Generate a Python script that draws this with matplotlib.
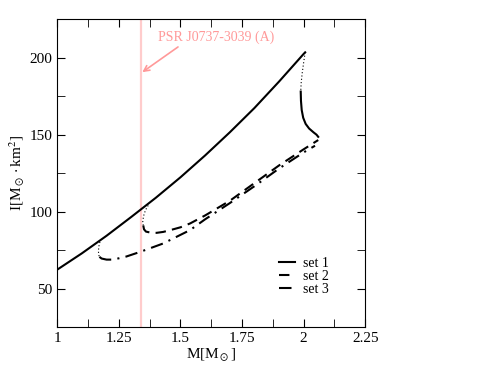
import numpy as np
import matplotlib.pyplot as plt
from matplotlib.ticker import MultipleLocator

plt.rcParams['font.family'] = ['Liberation Serif', 'DejaVu Serif']
plt.rcParams['mathtext.fontset'] = 'stix'

# set 1: stable branch, unstable (dotted) connection, hybrid branch
m1 = [1.0, 1.1, 1.2, 1.3, 1.4, 1.5, 1.6, 1.7, 1.8, 1.9, 2.0, 2.006]
i1 = [62.3, 72.9, 84.3, 96.5, 109.0, 122.3, 136.5, 151.5, 167.3, 184.5, 202.5, 203.5]
m1_dot = [2.006, 2.0, 1.994, 1.990, 1.988]
i1_dot = [203.5, 197.0, 190.0, 184.0, 178.0]
m1_hyb = [1.988, 1.989, 1.992, 1.998, 2.008, 2.022, 2.040, 2.052, 2.059]
i1_hyb = [178.0, 172.0, 166.0, 161.0, 157.0, 154.0, 151.5, 150.0, 148.6]

# set 2
m2_dot = [1.369, 1.358, 1.350, 1.347, 1.349]
i2_dot = [104.0, 101.0, 97.0, 93.5, 91.0]
m2 = [1.349, 1.352, 1.36, 1.38, 1.403, 1.43, 1.457, 1.5, 1.539, 1.6, 1.7, 1.8, 1.9, 2.0, 2.059]
i2 = [91.0, 88.5, 87.0, 86.3, 86.2, 86.8, 87.9, 89.8, 92.3, 97.5, 107.0, 118.5, 130.0, 140.5, 146.5]

# set 3
m3_dot = [1.173, 1.169, 1.167, 1.168, 1.171]
i3_dot = [80.3, 77.5, 74.5, 72.0, 70.6]
m3 = [1.171, 1.18, 1.2, 1.227, 1.28, 1.336, 1.43, 1.539, 1.6, 1.7, 1.8, 1.9, 2.0, 2.046]
i3 = [70.6, 69.5, 68.8, 68.8, 70.8, 73.8, 79.3, 88.0, 95.0, 105.5, 116.5, 128.0, 138.5, 142.8]

m_psr = 1.338

fig = plt.figure(figsize=(4.98, 3.85), dpi=100)
ax = fig.add_axes([0.115, 0.1506, 0.6185, 0.7994])

ax.axvline(m_psr, color='#ffcccc', lw=1.6, zorder=0)
ax.text(1.645, 213, 'PSR J0737-3039 (A)', color='#ff9999', fontsize=10,
        ha='center', va='center')
ax.annotate('', xy=(1.345, 190.6), xytext=(1.49, 207),
            arrowprops=dict(arrowstyle='->', color='#ff9999', lw=1.2,
                            shrinkA=0, shrinkB=0))

ax.plot(m1, i1, color='black', lw=1.5, label='set 1')
ax.plot(m1_dot, i1_dot, color='black', lw=0.8, ls=(0, (1, 2)))
ax.plot(m1_hyb, i1_hyb, color='black', lw=1.5)
ax.plot(m2_dot, i2_dot, color='black', lw=0.8, ls=(0, (1, 2)))
ax.plot(m2, i2, color='black', lw=1.5, ls=(0, (5, 3)), label='set 2')
ax.plot(m3_dot, i3_dot, color='black', lw=0.8, ls=(0, (1, 2)))
ax.plot(m3, i3, color='black', lw=1.5, ls=(0, (6, 3, 1, 3)), label='set 3')

ax.set_xlim(1, 2.25)
ax.set_ylim(25, 225)
ax.xaxis.set_minor_locator(MultipleLocator(0.125))
ax.yaxis.set_major_locator(MultipleLocator(50))
ax.yaxis.set_minor_locator(MultipleLocator(25))
ax.set_xticks([1, 1.25, 1.5, 1.75, 2, 2.25])
ax.set_xticklabels(['1', '1.25', '1.5', '1.75', '2', '2.25'])
ax.tick_params(which='both', direction='in', top=True, right=True, labelsize=11)
ax.tick_params(which='both', length=6)

ax.set_xlabel(r'M[M$_\odot$]', fontsize=11, labelpad=1)
ax.set_ylabel(r'I[M$_\odot\cdot$km$^2$]', fontsize=11, labelpad=2)

ax.legend(loc='lower left', bbox_to_anchor=(0.72, 0.1), frameon=False,
          fontsize=10, handlelength=1.15, labelspacing=0.0, handletextpad=0.6,
          borderpad=0, borderaxespad=0)

fig.savefig('out.png', dpi=100)
